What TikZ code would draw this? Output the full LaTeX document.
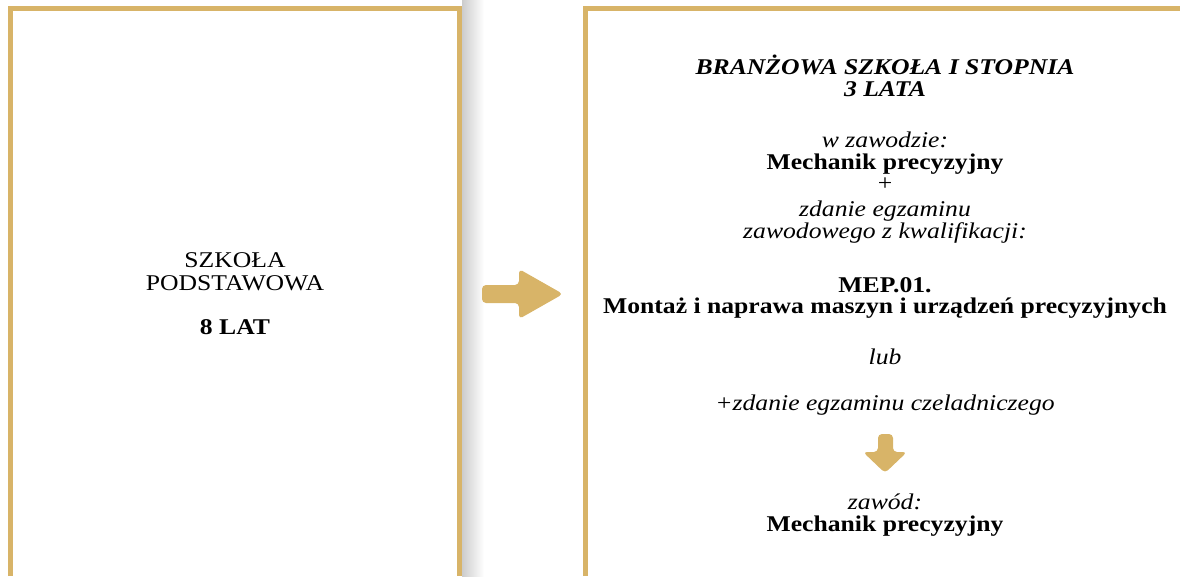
\documentclass[tikz,border=0pt]{standalone}
\usepackage{fontspec}
\setmainfont{Liberation Serif}[FakeStretch=1.14]
\definecolor{gold}{RGB}{216,180,104}
\begin{document}
\begin{tikzpicture}[x=1pt,y=-1pt,
  frame/.style={draw=gold,line width=5pt},
  blockarrow/.style={fill=gold,rounded corners=4pt},
  txt/.style={inner sep=0pt,anchor=base,font=\fontsize{22.5}{22}\selectfont},
  it/.style={txt,font=\fontsize{22.5}{22}\selectfont\itshape},
  bf/.style={txt,font=\fontsize{22.5}{22}\selectfont\bfseries},
  bfit/.style={txt,font=\fontsize{22.5}{22}\selectfont\bfseries\itshape},
]
\useasboundingbox (0,0) rectangle (1180,576);
% shadow
\shade[left color=black!20,right color=white] (462,0) rectangle (484,576);
% frames
\draw[frame] (10.5,576) -- (10.5,8.5) -- (459.5,8.5) -- (459.5,576);
\draw[frame] (585.5,576) -- (585.5,8.5) -- (1180,8.5);
% right arrow
\fill[blockarrow] (482,285) -- (519,285) -- (519,269) -- (563,294) -- (519,319) -- (519,303) -- (482,303) -- cycle;
% down arrow
\fill[blockarrow] (878,434) -- (893,434) -- (893,452) -- (907,452) -- (885,473) -- (863,452) -- (878,452) -- cycle;
% left text
\node[txt] (l1) at (235,267) {SZKOŁA};
\node[txt] (l2) at (235,290) {PODSTAWOWA};
\node[bf]  (l3) at (235,334) {8 LAT};
% right text
\node[bfit] (r1)  at (885,74)  {BRANŻOWA SZKOŁA I STOPNIA};
\node[bfit] (r2)  at (885,96)  {3 LATA};
\node[it]   (r3)  at (885,147) {w zawodzie:};
\node[bf]   (r4)  at (885,169) {Mechanik precyzyjny};
\node[txt]  (r5)  at (885,190) {+};
\node[it]   (r6)  at (885,216) {zdanie egzaminu};
\node[it]   (r7)  at (885,238) {zawodowego z kwalifikacji:};
\node[bf]   (r8)  at (885,292) {MEP.01.};
\node[bf]   (r9)  at (885,313) {Montaż i naprawa maszyn i urządzeń precyzyjnych};
\node[it]   (r10) at (885,364) {lub};
\node[it]   (r11) at (885,410) {+zdanie egzaminu czeladniczego};
\node[it]   (r12) at (885,509) {zawód:};
\node[bf]   (r13) at (885,531) {Mechanik precyzyjny};
\end{tikzpicture}
\end{document}
